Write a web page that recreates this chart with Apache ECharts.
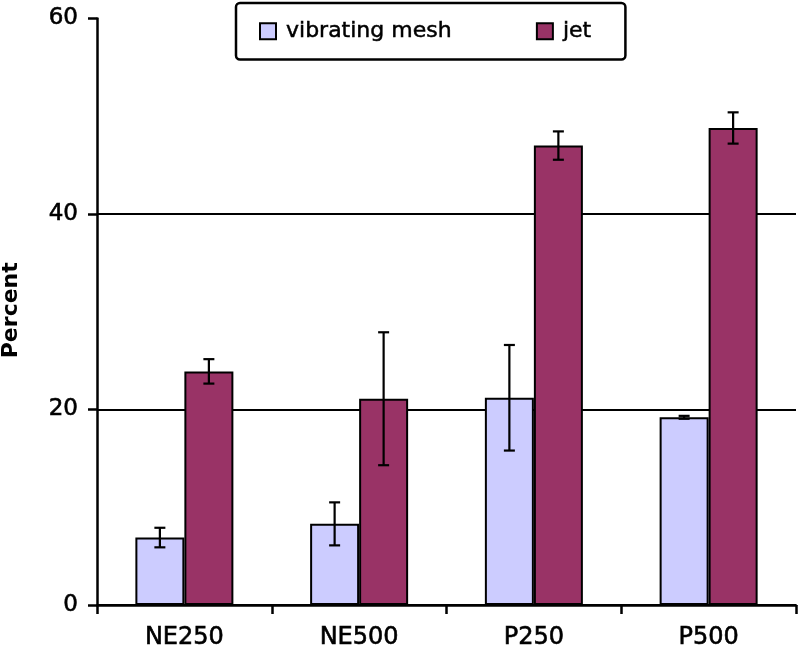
<!DOCTYPE html>
<html>
<head>
<meta charset="utf-8">
<script src="https://cdn.jsdelivr.net/npm/echarts@6/dist/echarts.min.js"></script>
<style>html,body{margin:0;padding:0;background:#fff}#c{width:799px;height:646px}</style>
</head>
<body>
<div id="c"></div>
<script>
const categories = ['NE250', 'NE500', 'P250', 'P500'];
const meshValues = [6.9, 8.3, 21.2, 19.2];
const meshErrors = [1.0, 2.2, 5.4, 0.15];
const jetValues = [23.9, 21.1, 47.0, 48.8];
const jetErrors = [1.25, 6.8, 1.45, 1.6];
const yTicks = [0, 20, 40, 60];

const BAR_W = 49;
const FONT = 'DejaVu Sans, Verdana, sans-serif';
const THICK = { textBorderColor: '#000', textBorderWidth: 0.6 };

function errData(vals, errs) {
  return vals.map((v, i) => [i, v - errs[i], v + errs[i]]);
}
function errRender(sign) {
  return function (params, api) {
    const i = api.value(0);
    const lo = api.coord([i, api.value(1)]);
    const hi = api.coord([i, api.value(2)]);
    const x = lo[0] + sign * BAR_W / 2;
    const cap = 5.5;
    const style = { stroke: '#000', lineWidth: 2.2 };
    return {
      type: 'group',
      children: [
        { type: 'line', shape: { x1: x, y1: hi[1], x2: x, y2: lo[1] }, style },
        { type: 'line', shape: { x1: x - cap, y1: hi[1], x2: x + cap, y2: hi[1] }, style },
        { type: 'line', shape: { x1: x - cap, y1: lo[1], x2: x + cap, y2: lo[1] }, style }
      ]
    };
  };
}

const chart = echarts.init(document.getElementById('c'));
chart.setOption({
  animation: false,
  backgroundColor: '#fff',
  grid: { left: 97, right: 3, top: 18.5, bottom: 41, containLabel: false, outerBoundsMode: 'none' },
  legend: {
    data: ['vibrating mesh', 'jet'],
    left: 236, top: 3,
    padding: [17, 34, 17, 23],
    itemGap: 84,
    itemWidth: 16, itemHeight: 16,
    icon: 'rect',
    borderColor: '#000', borderWidth: 2.5, borderRadius: 4,
    textStyle: { fontFamily: FONT, fontSize: 22, color: '#000', padding: [0, 0, 0, 5], textBorderColor: '#000', textBorderWidth: 0.5 },
    itemStyle: { borderColor: '#000', borderWidth: 2 }
  },
  xAxis: {
    type: 'category',
    data: categories,
    axisLine: { lineStyle: { color: '#000', width: 2.5 } },
    axisTick: { show: true, length: 9, lineStyle: { color: '#000', width: 2.5 } },
    axisLabel: Object.assign({ color: '#000', fontSize: 24, fontFamily: FONT, margin: 21 }, THICK),
    splitLine: { show: false }
  },
  yAxis: {
    type: 'value',
    min: yTicks[0], max: yTicks[yTicks.length - 1], interval: 20,
    name: 'Percent',
    nameLocation: 'middle',
    nameGap: 75,
    nameRotate: 90,
    nameTextStyle: { color: '#000', fontSize: 22, fontWeight: 'bold', fontFamily: FONT, padding: [0, 0, 0, 3] },
    axisLine: { show: true, lineStyle: { color: '#000', width: 2.5 } },
    axisTick: { show: true, length: 9, lineStyle: { color: '#000', width: 2.5 } },
    axisLabel: Object.assign({ color: '#000', fontSize: 23, fontFamily: FONT, margin: 19 }, THICK),
    splitLine: { show: true, lineStyle: { color: ['#000', '#000', '#000', 'rgba(0,0,0,0)'], width: 2 } }
  },
  series: [
    {
      name: 'vibrating mesh', type: 'bar', data: meshValues,
      barWidth: BAR_W, barGap: '0%',
      itemStyle: { color: '#CCCCFF', borderColor: '#000', borderWidth: 2 }
    },
    {
      name: 'jet', type: 'bar', data: jetValues,
      barWidth: BAR_W, barGap: '0%',
      itemStyle: { color: '#993366', borderColor: '#000', borderWidth: 2 }
    },
    {
      type: 'custom', name: 'meshErr', data: errData(meshValues, meshErrors),
      renderItem: errRender(-1), z: 10, silent: true,
      encode: { x: 0, y: [1, 2] }
    },
    {
      type: 'custom', name: 'jetErr', data: errData(jetValues, jetErrors),
      renderItem: errRender(1), z: 10, silent: true,
      encode: { x: 0, y: [1, 2] }
    }
  ]
});
</script>
</body>
</html>
